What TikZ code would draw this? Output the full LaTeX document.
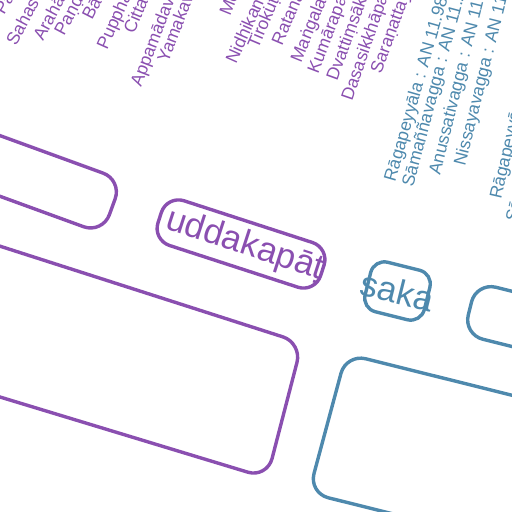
\documentclass[tikz,border=0pt]{standalone}
\usepackage{fontspec}
\setmainfont{Liberation Sans}
\definecolor{pur}{HTML}{8A4FB0}
\definecolor{blu}{HTML}{4E89AD}
\begin{document}
\begin{tikzpicture}[x=0.5pt,y=-0.5pt,
  lab/.style={anchor=base west, inner sep=0pt, font=\fontsize{8.8}{10}\selectfont},
  plab/.style={lab, text=pur},
  blab/.style={lab, text=blu},
  pbox/.style={draw=pur, line width=1.7pt, rounded corners=10pt},
  bbox/.style={draw=blu, line width=1.7pt, rounded corners=10pt},
  bigtxt/.style={font=\fontsize{17.5}{20}\selectfont, inner sep=0pt},
]
\useasboundingbox (0,0) rectangle (512,512);
\clip (0,0) rectangle (512,512);

% boxes whose text lies outside the picture
\draw[pbox] (-348,9) -- (122,180) -- (102.5,233.6) -- (-367.5,62.6) -- cycle;
\draw[pbox] (-300,150) -- (302,343) -- (267,478) -- (-300,306) -- cycle;
\draw[bbox] (476.4,282.4) -- (767,355) -- (754,407) -- (463.4,334.4) -- cycle;
\draw[bbox] (346.2,353.9) -- (734,450.7) -- (696.8,589.7) -- (308.8,492.9) -- cycle;

% uddakapata box
\node[draw=pur, line width=1.7pt, rounded corners=9pt, rotate=-18,
      minimum width=85.5pt, minimum height=23.5pt, inner sep=0pt] (udd) at (241,244) {};
\node[bigtxt, text=pur, rotate=-18] (uddt) at (245,245.3) {uddakapāṭ};

% saka box
\node[draw=blu, line width=1.7pt, rounded corners=7pt, rotate=-14,
      minimum width=30.5pt, minimum height=25.5pt, inner sep=0pt] (saka) at (397.5,291) {};
\node[bigtxt, text=blu, rotate=-14] (sakat) at (saka.center) {saka};

% Dhammapada labels
\node[plab, rotate=60] (l1) at (4,16) {Pā};
\node[plab, rotate=62] (l2) at (16,47) {Sahas};
\node[plab, rotate=62] (l3) at (43,42) {Arahā};
\node[plab, rotate=62] (l4) at (64,37) {Paṇḍ};
\node[plab, rotate=63] (l5) at (92,21) {Bā};
\node[plab, rotate=66] (l6) at (107,51) {Puppha};
\node[plab, rotate=67] (l7) at (134,35) {Citta};
\node[plab, rotate=69] (l8) at (141,88) {Appamādava};
\node[plab, rotate=69] (l9) at (168,64) {Yamakav};

% Khuddakapatha labels
\node[plab, rotate=68] (k1) at (230,17) {Me};
\node[plab, rotate=66] (k2) at (236,65) {Nidhikaṇ};
\node[plab, rotate=67] (k3) at (258,50) {Tirokuṭ};
\node[plab, rotate=67] (k4) at (282,47) {Ratanā};
\node[plab, rotate=68] (k5) at (301,64) {Maṅgala};
\node[plab, rotate=69] (k6) at (318,75) {Kumārapa};
\node[plab, rotate=70] (k7) at (337,82) {Dvattiṃsāk};
\node[plab, rotate=71] (k8) at (352,102) {Dasasikkhāpa};
\node[plab, rotate=70] (k9) at (381,75) {Saraṇattay};

% AN labels
\node[blab, rotate=74] (a1) at (395,183) {Rāgapeyyāla : AN 11.982};
\node[blab, rotate=75] (a2) at (413,188) {Sāmaññavagga : AN 11.2};
\node[blab, rotate=76] (a3) at (440,176) {Anussativagga : AN 11.1};
\node[blab, rotate=76] (a4) at (465,167) {Nissayavagga : AN 11.};
\node[blab, rotate=77] (a5) at (501,200) {Rāgapeyyā};
\node[blab, rotate=77] (a6) at (517,223) {Sā};
\end{tikzpicture}
\end{document}
